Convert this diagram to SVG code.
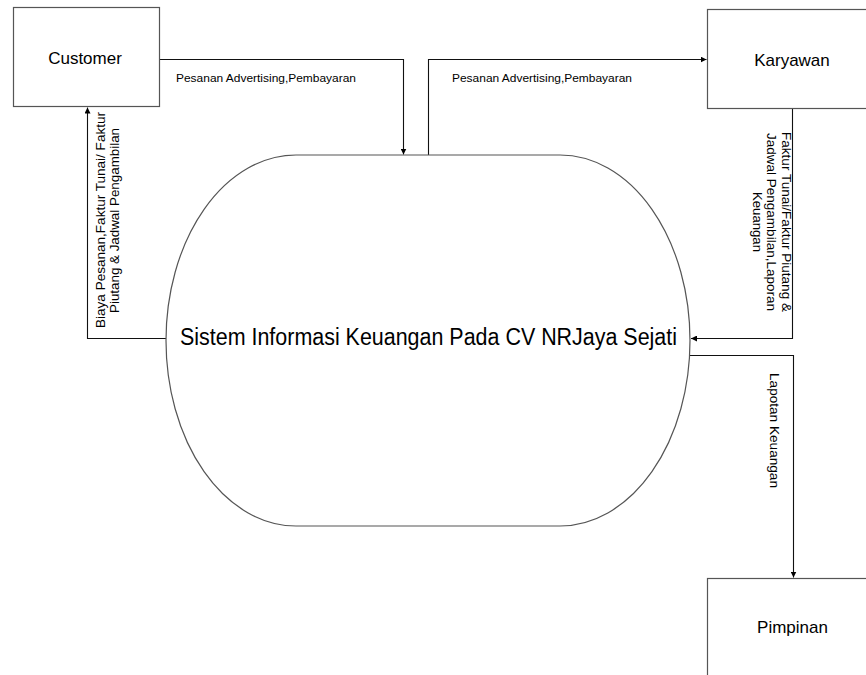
<svg xmlns="http://www.w3.org/2000/svg" width="866" height="675" viewBox="0 0 866 675">
<style>
.box{fill:#fff;stroke:#555;stroke-width:1.2}
.proc{fill:#fff;stroke:#555;stroke-width:1.2}
.conn{fill:none;stroke:#111;stroke-width:1.1}
text{font-family:"Liberation Sans",Arial,sans-serif;fill:#000}
.ent{font-size:17px;text-anchor:middle}
.lbl{font-size:11.5px}
.rl{font-size:12.5px;text-anchor:middle}
</style>
<defs>
<marker id="ah" viewBox="0 0 10 10" refX="10" refY="5" markerWidth="6" markerHeight="6" markerUnits="userSpaceOnUse" orient="auto">
<path d="M0,0 L10,5 L0,10 z" fill="#000"/>
</marker>
</defs>
<rect width="866" height="675" fill="#fff"/>
<g id="connectors">
<path class="conn" d="M159.5,59.5 H403.5 V154.5" marker-end="url(#ah)"/>
<path class="conn" d="M428.5,155 V59.5 H706.5" marker-end="url(#ah)"/>
<path class="conn" d="M792.5,108.5 V338.5 H691" marker-end="url(#ah)"/>
<path class="conn" d="M690,355.5 H793.5 V577.5" marker-end="url(#ah)"/>
<path class="conn" d="M166,338.5 H87.5 V107.5" marker-end="url(#ah)"/>
<text class="lbl" x="176" y="81.5" textLength="180" lengthAdjust="spacingAndGlyphs">Pesanan Advertising,Pembayaran</text>
<text class="lbl" x="452" y="81.5" textLength="180" lengthAdjust="spacingAndGlyphs">Pesanan Advertising,Pembayaran</text>
<text class="rl" transform="translate(104.5,220) rotate(-90)" x="0" y="0" textLength="216" lengthAdjust="spacingAndGlyphs">Biaya Pesanan,Faktur Tunai/ Faktur</text>
<text class="rl" transform="translate(119,220.5) rotate(-90)" x="0" y="0" textLength="185" lengthAdjust="spacingAndGlyphs">Piutang &amp; Jadwal Pengambilan</text>
<text class="rl" transform="translate(781.5,222) rotate(90)" x="0" y="0" textLength="180" lengthAdjust="spacingAndGlyphs">Faktur Tunai/Faktur Piutang &amp;</text>
<text class="rl" transform="translate(767,222) rotate(90)" x="0" y="0" textLength="178" lengthAdjust="spacingAndGlyphs">Jadwal Pengambilan,Laporan</text>
<text class="rl" transform="translate(752.5,222) rotate(90)" x="0" y="0" textLength="60" lengthAdjust="spacingAndGlyphs">Keuangan</text>
<text class="rl" transform="translate(769.5,430.5) rotate(90)" x="0" y="0" textLength="115" lengthAdjust="spacingAndGlyphs">Lapotan Keuangan</text>
</g>
<g id="customer">
<rect class="box" x="13.5" y="7.5" width="146" height="99"/>
<text class="ent" x="85" y="63.5">Customer</text>
</g>
<g id="karyawan">
<rect class="box" x="707.5" y="9.5" width="170" height="99"/>
<text class="ent" x="792" y="65.5">Karyawan</text>
</g>
<g id="pimpinan">
<rect class="box" x="707.5" y="578.5" width="170" height="120"/>
<text class="ent" x="792.5" y="633">Pimpinan</text>
</g>
<g id="sistem">
<rect class="proc" x="166" y="155" width="524" height="371" rx="130" ry="185.5"/>
<text x="180" y="345" font-size="23" textLength="497" lengthAdjust="spacingAndGlyphs">Sistem Informasi Keuangan Pada CV NRJaya Sejati</text>
</g>
</svg>
